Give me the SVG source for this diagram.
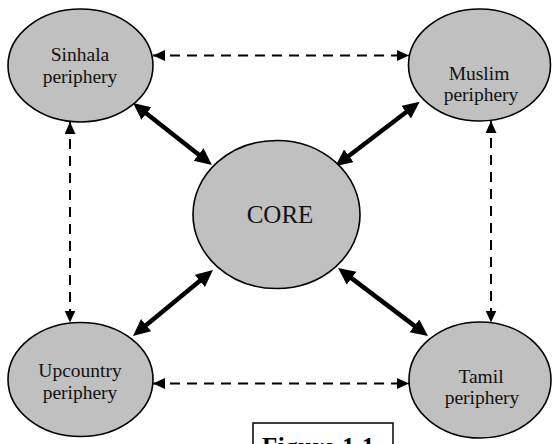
<svg xmlns="http://www.w3.org/2000/svg" width="555" height="444" viewBox="0 0 555 444">
<defs>
<style>
.node ellipse{fill:#c0c0c0;stroke:#000;stroke-width:1.6}
.lbl{font-family:"Liberation Serif","Times New Roman",serif;font-size:19.5px;fill:#111;text-anchor:middle}
.core{font-size:25px}
.dash{stroke:#000;stroke-width:2;stroke-dasharray:10 7;fill:none;marker-start:url(#hd);marker-end:url(#hd)}
.thick{stroke:#000;stroke-width:4.5;fill:none;marker-start:url(#ht);marker-end:url(#ht)}
.cap{font-family:"Liberation Serif","Times New Roman",serif;font-size:25px;font-weight:bold;letter-spacing:0.5px;fill:#000}
</style>
<marker id="hd" markerUnits="userSpaceOnUse" markerWidth="14" markerHeight="12" refX="12" refY="5.5" orient="auto-start-reverse" viewBox="0 0 14 12">
<path d="M0,0 L12,5.5 L0,11 z" fill="#000"/>
</marker>
<marker id="ht" markerUnits="userSpaceOnUse" markerWidth="18" markerHeight="17" refX="6" refY="8" orient="auto-start-reverse" viewBox="0 0 18 17">
<path d="M0,0 L17,8 L0,16 z" fill="#000"/>
</marker>
</defs>
<rect width="555" height="444" fill="#fff"/>
<g id="connectors">
<line class="dash" x1="153" y1="55.5" x2="409" y2="55.5"/>
<line class="dash" x1="153" y1="383.5" x2="409" y2="383.5"/>
<line class="dash" x1="70" y1="122" x2="70" y2="322.5"/>
<line class="dash" x1="491" y1="121" x2="491" y2="322.5"/>
<line class="thick" x1="141.7" y1="109.8" x2="203.3" y2="158.2"/>
<line class="thick" x1="410.9" y1="108.5" x2="344.1" y2="159.5"/>
<line class="thick" x1="141.5" y1="328.9" x2="204.5" y2="277.1"/>
<line class="thick" x1="419.2" y1="329.4" x2="346.8" y2="274.6"/>
</g>
<g id="sinhala" class="node">
<ellipse cx="80.5" cy="65.5" rx="72.5" ry="56.5"/>
<text class="lbl" x="80" y="61">Sinhala</text>
<text class="lbl" x="80" y="83">periphery</text>
</g>
<g id="muslim" class="node">
<ellipse cx="479.5" cy="65" rx="71" ry="56"/>
<text class="lbl" x="479" y="80">Muslim</text>
<text class="lbl" x="481" y="101">periphery</text>
</g>
<g id="core" class="node">
<ellipse cx="276.5" cy="214.5" rx="83.5" ry="74"/>
<text class="lbl core" x="280" y="223">CORE</text>
</g>
<g id="upcountry" class="node">
<ellipse cx="80.5" cy="379.5" rx="72.5" ry="57"/>
<text class="lbl" x="80" y="377">Upcountry</text>
<text class="lbl" x="80" y="399">periphery</text>
</g>
<g id="tamil" class="node">
<ellipse cx="480" cy="380" rx="71" ry="58"/>
<text class="lbl" x="481" y="383">Tamil</text>
<text class="lbl" x="482" y="404">periphery</text>
</g>
<g id="caption">
<rect x="253" y="423" width="140" height="40" fill="none" stroke="#000" stroke-width="1.5"/>
<text class="cap" x="262" y="455">Figure 1.1</text>
</g>
</svg>
